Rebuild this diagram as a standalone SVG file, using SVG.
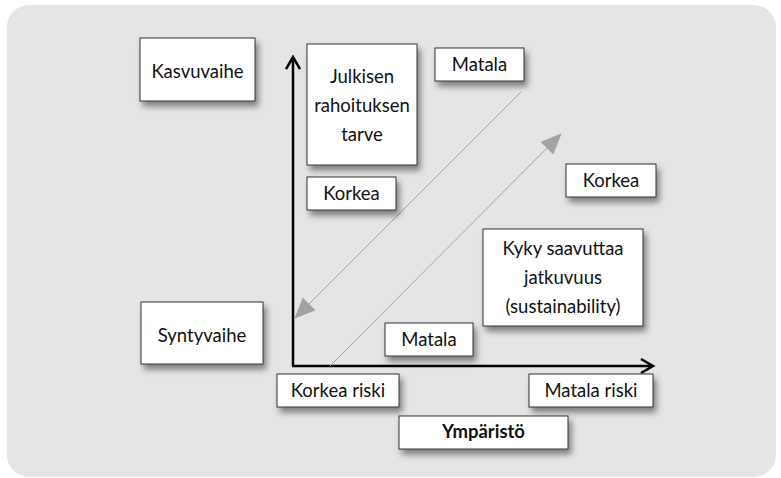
<svg xmlns="http://www.w3.org/2000/svg" width="781" height="478" viewBox="0 0 781 478">
<defs>
<filter id="sh" x="-20%" y="-20%" width="150%" height="170%">
<feDropShadow dx="3" dy="5" stdDeviation="3" flood-color="#000" flood-opacity="0.45"/>
</filter>
<marker id="ga" markerWidth="22" markerHeight="18" refX="20" refY="9" orient="auto" markerUnits="userSpaceOnUse">
<path d="M0,0 L21,9 L0,18 Z" fill="#a3a3a3"/>
</marker>
<marker id="ka" markerWidth="16" markerHeight="16" refX="13" refY="8" orient="auto" markerUnits="userSpaceOnUse">
<path d="M1,1 L13,8 L1,15" fill="none" stroke="#000" stroke-width="2.5"/>
</marker>
</defs>
<style>
.bx{fill:#fff;stroke:#333;stroke-width:1;filter:url(#sh)}
.t{font-family:Lato,"Open Sans",sans-serif;font-size:18.5px;fill:#111;text-anchor:middle}
.b{font-weight:bold}
</style>
<rect x="7" y="5" width="769" height="472" rx="22" fill="#e4e5e4"/>
<g id="connectors">
<line x1="293" y1="366" x2="293" y2="57" stroke="#000" stroke-width="2.5" marker-end="url(#ka)"/>
<line x1="292" y1="366" x2="653" y2="366" stroke="#000" stroke-width="2.5" marker-end="url(#ka)"/>
<line x1="521" y1="92" x2="295" y2="318" stroke="#a3a3a3" stroke-width="1" marker-end="url(#ga)"/>
<line x1="330" y1="366" x2="561" y2="134" stroke="#a3a3a3" stroke-width="1" marker-end="url(#ga)"/>
</g>
<g id="kasvuvaihe"><rect class="bx" x="140" y="38" width="115" height="63"/><text class="t" x="197.5" y="78">Kasvuvaihe</text></g>
<g id="julkisen"><rect class="bx" x="307" y="44" width="110" height="121"/><text class="t" x="362" y="83">Julkisen</text><text class="t" x="362" y="112">rahoituksen</text><text class="t" x="362" y="141">tarve</text></g>
<g id="korkea-left"><rect class="bx" x="307" y="177" width="89" height="33"/><text class="t" x="351.5" y="200">Korkea</text></g>
<g id="matala-top"><rect class="bx" x="435" y="48" width="89" height="33"/><text class="t" x="479.5" y="71">Matala</text></g>
<g id="korkea-right"><rect class="bx" x="566" y="164" width="90" height="33"/><text class="t" x="611" y="187">Korkea</text></g>
<g id="kyky"><rect class="bx" x="483" y="229" width="160" height="97"/><text class="t" x="563" y="255">Kyky saavuttaa</text><text class="t" x="563" y="284">jatkuvuus</text><text class="t" x="563" y="313">(sustainability)</text></g>
<g id="matala-bottom"><rect class="bx" x="385" y="323" width="88" height="33"/><text class="t" x="429" y="346">Matala</text></g>
<g id="syntyvaihe"><rect class="bx" x="141" y="302" width="122" height="62"/><text class="t" x="202" y="342">Syntyvaihe</text></g>
<g id="korkea-riski"><rect class="bx" x="277" y="374" width="122" height="33"/><text class="t" x="338" y="397">Korkea riski</text></g>
<g id="matala-riski"><rect class="bx" x="529" y="374" width="124" height="33"/><text class="t" x="591" y="397">Matala riski</text></g>
<g id="ymparisto"><rect class="bx" x="399" y="416" width="169" height="33"/><text class="t b" x="483.5" y="438">Ympäristö</text></g>
</svg>
